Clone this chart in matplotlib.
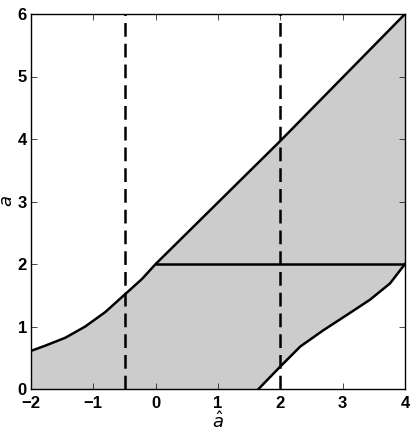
import numpy as np
import matplotlib.pyplot as plt

# belt edges
x_up = [-2.0, -1.78, -1.45, -1.13, -0.81, -0.52, -0.22, 0.0, 2.0, 4.0]
a_up = [0.61, 0.69, 0.82, 1.0, 1.23, 1.49, 1.76, 2.0, 3.97, 6.0]

x_lo = [1.65, 2.0, 2.32, 2.69, 3.06, 3.44, 3.76, 4.0]
a_lo = [0.0, 0.36, 0.68, 0.94, 1.18, 1.43, 1.69, 2.0]

x_flat = [0.0, 4.0]
a_flat = [2.0, 2.0]

x_dash = [-0.5, 2.0]

xticks = [-2, -1, 0, 1, 2, 3, 4]
yticks = [0, 1, 2, 3, 4, 5, 6]

plt.rcParams["font.family"] = ["Liberation Sans", "DejaVu Sans"]

fig = plt.figure(figsize=(4.15, 4.32), dpi=100)
ax = fig.add_axes([0.0747, 0.0995, 0.9012, 0.8681])

# fill between upper edge and lower edge (0 where lower edge is below axis)
xs = np.linspace(-2, 4, 601)
up = np.interp(xs, x_up, a_up)
lo = np.interp(xs, x_lo, a_lo, left=0.0)
ax.fill_between(xs, lo, up, color="#cccccc", lw=0)

ax.plot(x_up, a_up, color="k", lw=1.8)
ax.plot(x_lo, a_lo, color="k", lw=1.8)
ax.plot(x_flat, a_flat, color="k", lw=1.8)
for xd in x_dash:
    ax.axvline(xd, color="k", lw=1.8, ls=(0, (5.5, 2.8)))

ax.set_xlim(-2, 4)
ax.set_ylim(0, 6)
ax.set_xticks(xticks)
ax.set_yticks(yticks)
ax.set_xticklabels(["\u22122", "\u22121", "0", "1", "2", "3", "4"])
ax.tick_params(direction="in", length=4, width=0.5, top=True, right=True,
               labelsize=12)
ax.tick_params(axis="x", pad=5)
ax.tick_params(axis="y", pad=3)
for lab in ax.get_xticklabels() + ax.get_yticklabels():
    lab.set_fontweight("bold")
for s in ax.spines.values():
    s.set_linewidth(1.0)

ax.set_xlabel(r"$\hat{a}$", fontsize=13, labelpad=0)
ax.set_ylabel(r"$a$", fontsize=13, labelpad=1)

fig.savefig("out.png", dpi=100)
